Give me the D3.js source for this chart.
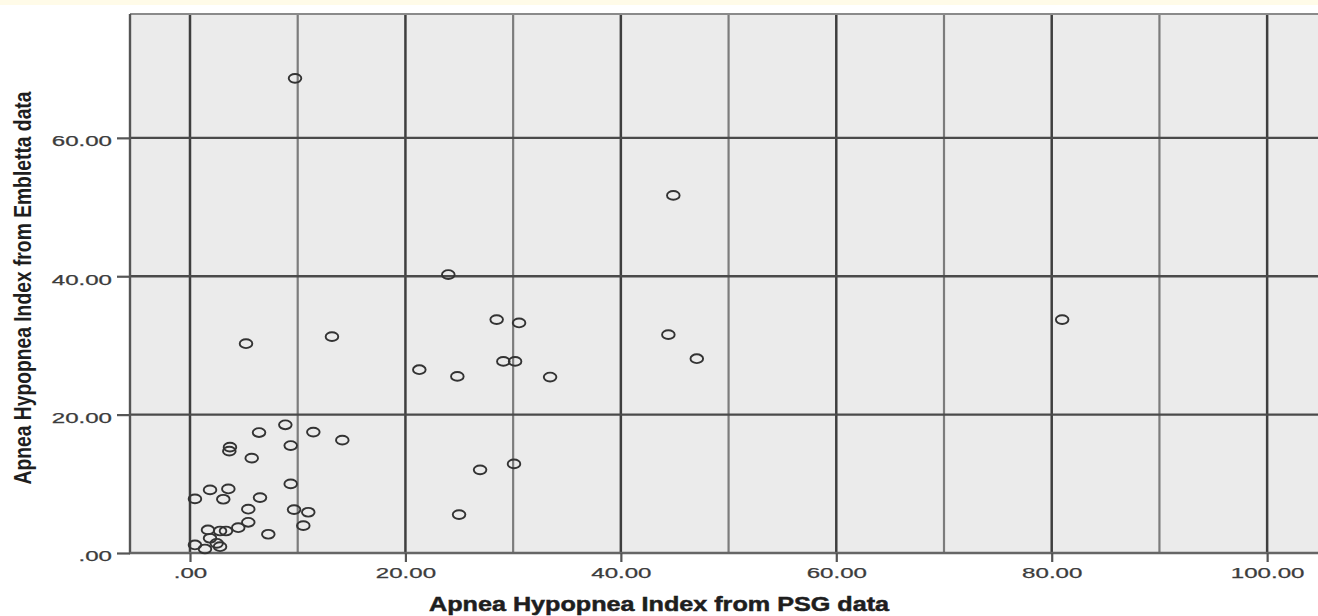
<!DOCTYPE html>
<html>
<head>
<meta charset="utf-8">
<script src="https://cdn.jsdelivr.net/npm/d3@7"></script>
<style>
  html, body { margin: 0; padding: 0; background: #ffffff; }
  svg { display: block; }
  text { font-family: "Liberation Sans", Arial, sans-serif; }
</style>
</head>
<body>
<svg id="chart" width="1318" height="616"></svg>
<script>
// ---- data ----
const psgAHI = [
  9.75, 44.87, 23.98, 28.47, 30.55, 44.41, 47.05, 29.09, 30.18, 21.29,
  24.82, 33.43, 26.93, 30.08, 24.98, 5.20, 13.18, 80.97, 8.85, 6.41,
  11.45, 14.14, 3.71, 3.65, 9.35, 5.73, 9.35, 0.46, 1.86, 3.56,
  3.09, 6.50, 5.41, 9.66, 10.98, 5.41, 4.48, 10.52, 7.27, 1.67,
  2.79, 3.34, 1.86, 0.46, 2.48, 2.79, 1.39
];
const emblettaAHI = [
  68.60, 51.68, 40.24, 33.73, 33.25, 31.56, 28.08, 27.69, 27.69, 26.49,
  25.52, 25.43, 12.02, 12.88, 5.55, 30.25, 31.27, 33.73, 18.53, 17.41,
  17.47, 16.31, 15.30, 14.72, 15.53, 13.71, 9.99, 7.82, 9.12, 9.26,
  7.77, 8.01, 6.33, 6.27, 5.89, 4.44, 3.66, 3.95, 2.71, 3.33,
  3.18, 3.18, 2.13, 1.16, 1.40, 0.91, 0.58
];
const xTickValues = [0, 20, 40, 60, 80, 100];
const xTickLabels = [".00", "20.00", "40.00", "60.00", "80.00", "100.00"];
const xMinorGrid = [10, 30, 50, 70, 90];
const yTickValues = [0, 20, 40, 60];
const yTickLabels = [".00", "20.00", "40.00", "60.00"];
const xTitle = "Apnea Hypopnea Index from PSG data";
const yTitle = "Apnea Hypopnea Index from Embletta data";

// ---- layout ----
const W = 1318, H = 616;
const plot = { left: 130, top: 14, right: 1321, bottom: 553 };
const svg = d3.select("#chart");

const x = d3.scaleLinear().domain([-5.57, 105]).range([plot.left, plot.right]);
const y = d3.scaleLinear().domain([0, 77.9]).range([plot.bottom, plot.top]);

// top cream strip
svg.append("rect").attr("x", 0).attr("y", 0).attr("width", W).attr("height", 5)
  .attr("fill", "#fffbe8");

// plot background
svg.append("rect")
  .attr("x", plot.left).attr("y", plot.top)
  .attr("width", plot.right - plot.left).attr("height", plot.bottom - plot.top)
  .attr("fill", "#ebebeb");

// minor vertical grid
svg.append("g").selectAll("line").data(xMinorGrid).join("line")
  .attr("x1", d => x(d)).attr("x2", d => x(d))
  .attr("y1", plot.top).attr("y2", plot.bottom)
  .attr("stroke", "#7c7c7c").attr("stroke-width", 2.2);

// major vertical grid
svg.append("g").selectAll("line").data(xTickValues).join("line")
  .attr("x1", d => x(d)).attr("x2", d => x(d))
  .attr("y1", plot.top).attr("y2", plot.bottom)
  .attr("stroke", "#3e3e3e").attr("stroke-width", 2.5);

// horizontal grid
svg.append("g").selectAll("line").data(yTickValues.filter(v => v > 0)).join("line")
  .attr("x1", plot.left).attr("x2", plot.right)
  .attr("y1", d => y(d)).attr("y2", d => y(d))
  .attr("stroke", "#4a4a4a").attr("stroke-width", 2.3);

// frame
svg.append("line").attr("x1", plot.left).attr("x2", plot.right)
  .attr("y1", plot.top).attr("y2", plot.top)
  .attr("stroke", "#8a8a8a").attr("stroke-width", 1.8);
svg.append("line").attr("x1", plot.left).attr("x2", plot.left)
  .attr("y1", plot.top).attr("y2", plot.bottom + 1)
  .attr("stroke", "#555").attr("stroke-width", 2.4);
svg.append("line").attr("x1", plot.left - 1).attr("x2", plot.right)
  .attr("y1", plot.bottom).attr("y2", plot.bottom)
  .attr("stroke", "#666").attr("stroke-width", 2.4);

// stretch helper for the wide tick labels
function stretch(sel, k) {
  sel.each(function () {
    const L = this.getComputedTextLength();
    d3.select(this).attr("textLength", L * k).attr("lengthAdjust", "spacingAndGlyphs");
  });
}

// y axis
const yAxis = d3.axisLeft(y).tickValues(yTickValues)
  .tickFormat((d, i) => yTickLabels[i]).tickSize(13).tickPadding(5);
const gy = svg.append("g").attr("transform", `translate(${plot.left},0)`).call(yAxis);
gy.select(".domain").remove();
gy.selectAll(".tick line").attr("stroke", "#555").attr("stroke-width", 2.2);
gy.selectAll(".tick text").attr("font-size", 14).attr("fill", "#3c3c3c")
  .attr("stroke", "#3c3c3c").attr("stroke-width", 0.25)
  .attr("dy", "0.57em").call(stretch, 1.72);

// x axis
const xAxis = d3.axisBottom(x).tickValues(xTickValues)
  .tickFormat((d, i) => xTickLabels[i]).tickSize(9).tickPadding(6);
const gx = svg.append("g").attr("transform", `translate(0,${plot.bottom})`).call(xAxis);
gx.select(".domain").remove();
gx.selectAll(".tick line").attr("stroke", "#555").attr("stroke-width", 2.2);
gx.selectAll(".tick text").attr("font-size", 14).attr("fill", "#3c3c3c")
  .attr("stroke", "#3c3c3c").attr("stroke-width", 0.25)
  .call(stretch, 1.72);

// points
const pts = psgAHI.map((v, i) => ({ x: v, y: emblettaAHI[i] }));
svg.append("g").selectAll("ellipse").data(pts).join("ellipse")
  .attr("cx", d => x(d.x)).attr("cy", d => y(d.y))
  .attr("rx", 6.3).attr("ry", 4.4)
  .attr("fill", "none").attr("stroke", "#333").attr("stroke-width", 1.9);

// axis titles
svg.append("text")
  .attr("x", 659).attr("y", 611)
  .attr("text-anchor", "middle")
  .attr("font-size", 21).attr("font-weight", "bold").attr("fill", "#1e1e1e")
  .attr("stroke", "#1e1e1e").attr("stroke-width", 0.5)
  .attr("textLength", 460).attr("lengthAdjust", "spacingAndGlyphs")
  .text(xTitle);

svg.append("text")
  .attr("transform", "translate(31,288) rotate(-90)")
  .attr("text-anchor", "middle")
  .attr("font-size", 23).attr("font-weight", "bold").attr("fill", "#1e1e1e")
  .attr("textLength", 393).attr("lengthAdjust", "spacingAndGlyphs")
  .text(yTitle);
</script>
</body>
</html>
